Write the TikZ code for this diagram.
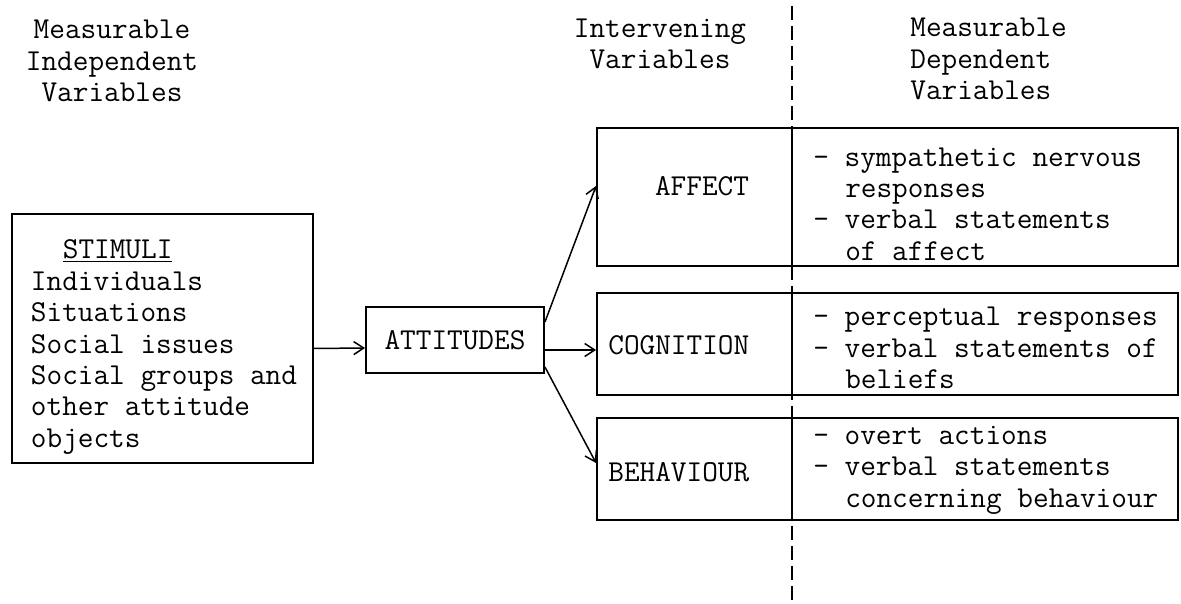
\documentclass[tikz,border=0pt]{standalone}
\usepackage{fontspec}
\usetikzlibrary{arrows.meta, calc}
\newcommand{\ind}{\hspace*{1.05em}}

\begin{document}
\begin{tikzpicture}[x=0.02cm, y=-0.02cm, >={Straight Barb[length=2mm, width=2.6mm]},
  every node/.style={font=\ttfamily\fontsize{17.3pt}{17.9pt}\selectfont},
  box/.style={draw, line width=1.1pt, inner sep=0pt},
  txt/.style={inner sep=0pt, align=left},
  arr/.style={->, line width=0.85pt}]
  \useasboundingbox (0,0) rectangle (1181,604);

  % column headings
  \node[align=center] (hdIndep) at (112,61) {Measurable\\Independent\\Variables};
  \node[align=center] (hdInter) at (660,44) {Intervening\\Variables};
  \node[txt, anchor=west] (hdDep) at (910,59) {Measurable\\Dependent\\Variables};

  % dashed divider between the two kinds of variables
  \coordinate (divtop) at (792,6);
  \coordinate (divbot) at (792,604);
  \draw[line width=1.1pt, dash pattern=on 0.28cm off 0.12cm] (divtop) -- (divbot);

  % stimuli and attitudes
  \node[box, minimum width=6.02cm, minimum height=4.98cm] (stimuli) at (162.5,338.5) {};
  \node[txt] (stimuliT) at (164,347) {\ind\underline{STIMULI}\\Individuals\\Situations\\Social issues\\Social groups and\\other attitude\\objects};
  \node[box, minimum width=3.56cm, minimum height=1.32cm] (att) at (455,340) {ATTITUDES};

  % intervening variables
  \node[box, minimum width=3.9cm, minimum height=2.76cm] (affect) at (694.5,197) {};
  \node[box, minimum width=3.9cm, minimum height=2.04cm] (cognition) at (694.5,344) {};
  \node[box, minimum width=3.9cm, minimum height=2.04cm] (behaviour) at (694.5,469) {};
  \node[txt] (affectT) at (702,186) {AFFECT};
  \node[txt, anchor=west] (cognitionT) at (608,345) {COGNITION};
  \node[txt, anchor=west] (behaviourT) at (608,472) {BEHAVIOUR};

  % dependent variables
  \node[box, minimum width=7.72cm, minimum height=2.76cm] (affectM) at (985,197) {};
  \node[box, minimum width=7.72cm, minimum height=2.04cm] (cognitionM) at (985,344) {};
  \node[box, minimum width=7.72cm, minimum height=2.04cm] (behaviourM) at (985,469) {};
  \node[txt, anchor=west] (affectD) at (813,204) {- sympathetic nervous\\\ind responses\\- verbal statements\\\ind of affect};
  \node[txt, anchor=west] (cognitionD) at (813,348) {- perceptual responses\\- verbal statements of\\\ind beliefs};
  \node[txt, anchor=west] (behaviourD) at (813,470) {- overt actions\\- verbal statements\\\ind concerning behaviour};

  % arrows
  \draw[arr] ($(stimuli.east)+(0,10)$) -- ($(att.west)+(0,8)$);
  \draw[arr] ($(att.east)+(0,-18)$) -- (affect.west |- affectT.center);
  \draw[arr] ($(att.east)+(0,10)$) coordinate (a2) -- (a2 -| cognition.west);
  \draw[arr] ($(att.east)+(0,27)$) -- ($(behaviour.west)+(0,-6)$);
\end{tikzpicture}
\end{document}
